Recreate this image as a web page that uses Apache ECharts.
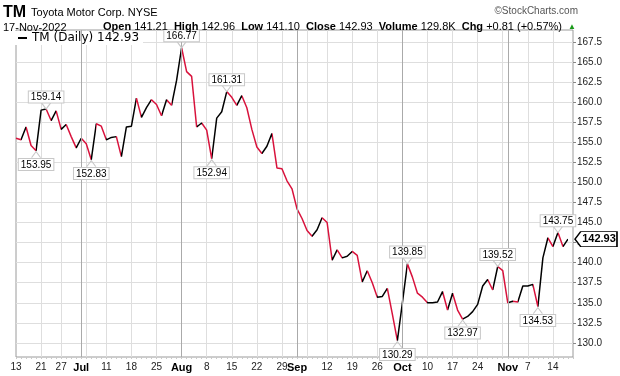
<!DOCTYPE html>
<html>
<head>
<meta charset="utf-8">
<script src="https://cdn.jsdelivr.net/npm/echarts@6/dist/echarts.min.js"></script>
<style>
  html, body { margin: 0; padding: 0; background: #fff; }
  #chart { width: 620px; height: 376px; }
</style>
</head>
<body>
<div id="chart"></div>
<script>
// trading days shown on the chart (Jun 13 - Nov 17, 2022)
const tradingDays = [
  ["06", [13, 14, 15, 16, 17, 21, 22, 23, 24, 27, 28, 29, 30]],
  ["07", [1, 5, 6, 7, 8, 11, 12, 13, 14, 15, 18, 19, 20, 21, 22, 25, 26, 27, 28, 29]],
  ["08", [1, 2, 3, 4, 5, 8, 9, 10, 11, 12, 15, 16, 17, 18, 19, 22, 23, 24, 25, 26, 29, 30, 31]],
  ["09", [1, 2, 6, 7, 8, 9, 12, 13, 14, 15, 16, 19, 20, 21, 22, 23, 26, 27, 28, 29, 30]],
  ["10", [3, 4, 5, 6, 7, 10, 11, 12, 13, 14, 17, 18, 19, 20, 21, 24, 25, 26, 27, 28, 31]],
  ["11", [1, 2, 3, 4, 7, 8, 9, 10, 11, 14, 15, 16, 17]],
]

// daily closes
const closes = [
  155.5, 155.3, 156.9, 154.6, 153.95, 159.0, 159.14, 157.7, 158.9, 156.6, 157.2, 155.7, 154.3,
  155.5, 154.8, 152.83, 157.3, 157.0, 155.3, 155.6, 155.7, 153.2, 156.9, 157.0, 160.5, 158.1,
  159.3, 160.3, 159.7, 158.3, 160.3, 159.6, 162.7,
  166.77, 163.8, 163.2, 156.9, 157.4, 156.5, 152.94, 158.0, 158.8, 161.31, 160.6, 159.6, 160.8,
  159.3, 156.6, 154.4, 153.6, 154.5, 156.1, 151.8, 151.7, 150.2, 149.2,
  146.7, 145.5, 144.0, 143.3, 144.1, 145.6, 145.0, 140.3, 141.6, 140.6, 140.8, 141.4, 140.9,
  137.6, 139.0, 137.5, 135.7, 135.8, 136.8, 133.6, 130.29,
  135.0, 139.85, 138.2, 136.2, 135.7, 135.0, 135.0, 135.1, 136.4, 134.1, 136.2, 134.1, 132.97,
  133.3, 133.9, 134.8, 137.1, 137.9, 136.6, 139.52, 139.0,
  135.0, 135.2, 135.1, 137.1, 137.1, 137.3, 134.53, 140.6, 143.1, 142.0, 143.75, 142.0, 142.93,
]

// x axis labels
const tickDates = [
  "2022-06-13", "2022-06-21", "2022-06-27", "2022-07-01", "2022-07-11", "2022-07-18", "2022-07-25",
  "2022-08-01", "2022-08-08", "2022-08-15", "2022-08-22", "2022-08-29", "2022-09-01", "2022-09-12",
  "2022-09-19", "2022-09-26", "2022-10-03", "2022-10-10", "2022-10-17", "2022-10-24", "2022-11-01",
  "2022-11-07", "2022-11-14",
]
const tickTexts = [
  "13", "21", "27", "Jul", "11", "18", "25", "Aug", "8", "15", "22", "29", "Sep", "12",
  "19", "26", "Oct", "10", "17", "24", "Nov", "7", "14",
]

// y axis labels
const yTicks = [130, 132.5, 135, 137.5, 140, 142.5, 145, 147.5, 150, 152.5, 155, 157.5, 160, 162.5, 165, 167.5]

// annotated highs / lows
const noteDates = [
  "2022-06-17", "2022-06-22", "2022-07-06", "2022-08-01", "2022-08-09", "2022-08-12",
  "2022-09-30", "2022-10-04", "2022-10-19", "2022-10-28", "2022-11-09", "2022-11-15",
]
const noteAbove = [false, true, false, true, false, true, false, true, false, true, false, true]

// header quote
const quoteNames = ["Open", "High", "Low", "Close", "Volume", "Chg"]
const quoteValues = ["141.21", "142.96", "141.10", "142.93", "129.8K", "+0.81 (+0.57%)"]

const UP = "#000000"
const DOWN = "#d8123c"
const FONT = "Liberation Sans"

const dates = []
tradingDays.forEach(([m, days]) => {
  days.forEach((d) => dates.push("2022-" + m + "-" + String(d).padStart(2, "0")))
})
const categories = dates.concat([""]) // small gap after the last close, like the reference

// weekly and monthly grid lines
const weekStart = new Set()
const monthStart = []
dates.forEach((d, i) => {
  if (i === 0) return
  const prev = dates[i - 1]
  if (new Date(d).getUTCDay() < new Date(prev).getUTCDay()) weekStart.add(d)
  if (d.slice(5, 7) !== prev.slice(5, 7)) {
    weekStart.add(d)
    monthStart.push(d)
  }
})

// colour each segment by direction
const pieces = []
for (let i = 1; i < closes.length; i++) {
  pieces.push({
    gt: i === 1 ? -1 : i - 1,
    lte: i,
    color: closes[i] >= closes[i - 1] ? UP : DOWN,
  })
}

const notePoints = noteDates.map((d, k) => {
  const i = dates.indexOf(d)
  const above = noteAbove[k]
  return {
    coord: [d, closes[i]],
    value: closes[i].toFixed(2),
    symbol: above ? "path://M0,0 L5,6 L10,0" : "path://M0,6 L5,0 L10,6",
    symbolSize: [9, 6],
    symbolOffset: [0, above ? -3 : 4],
    itemStyle: { color: "rgba(0,0,0,0)", borderColor: "#c8c8c8", borderWidth: 1 },
    label: {
      show: true,
      position: above ? "top" : "bottom",
      distance: above ? 0 : 1,
      formatter: "{c}",
      fontFamily: FONT,
      fontSize: 10,
      color: "#000",
      backgroundColor: "#fff",
      borderColor: "#c8c8c8",
      borderWidth: 1,
      padding: [1, 2, 0, 2],
    },
  }
})

const last = closes.length - 1
const lastPoint = {
  coord: [dates[last], closes[last]],
  value: closes[last].toFixed(2),
  symbol: "path://M0,7 L6,0 L44,0 L44,14 L6,14 Z",
  symbolSize: [42, 15],
  symbolKeepAspect: false,
  symbolOffset: [28, 0],
  itemStyle: { color: "#fff", borderColor: "#000", borderWidth: 1 },
  label: {
    show: true,
    position: "inside",
    offset: [3, 0],
    formatter: "{c}",
    fontFamily: FONT,
    fontSize: 11,
    fontWeight: "bold",
    color: "#000",
  },
}

let quoteText = ""
quoteNames.forEach((n, i) => {
  quoteText += "{b|" + n + "} " + quoteValues[i] + "  "
})
quoteText += "{g|▲}"

const chart = echarts.init(document.getElementById("chart"))
const option = {
  animation: false,
  backgroundColor: "#fff",
  textStyle: { fontFamily: FONT },
  title: [
    {
      left: 3,
      top: 4,
      padding: 0,
      text: "{t|TM} {n|Toyota Motor Corp. NYSE}",
      textStyle: {
        rich: {
          t: { fontFamily: FONT, fontSize: 16, fontWeight: "bold", color: "#000" },
          n: { fontFamily: FONT, fontSize: 11, fontWeight: "normal", color: "#000" },
        },
      },
    },
    {
      left: 3,
      top: 22,
      padding: 0,
      text: "17-Nov-2022",
      textStyle: { fontFamily: FONT, fontSize: 11, fontWeight: "normal", color: "#000" },
    },
    {
      right: 44,
      top: 21,
      padding: 0,
      text: quoteText,
      textStyle: {
        fontFamily: FONT,
        fontSize: 11,
        fontWeight: "normal",
        color: "#000",
        rich: {
          b: { fontFamily: FONT, fontSize: 11, fontWeight: "bold", color: "#000" },
          g: { fontSize: 8, color: "#1a9a1a" },
        },
      },
    },
    {
      right: 42,
      top: 6,
      padding: 0,
      text: "©StockCharts.com",
      textStyle: { fontFamily: FONT, fontSize: 10, fontWeight: "normal", color: "#555" },
    },
  ],
  legend: {
    left: 15,
    top: 31,
    padding: [1, 4, 1, 3],
    backgroundColor: "#fff",
    itemWidth: 9,
    itemHeight: 2,
    itemGap: 4,
    textStyle: { fontFamily: "DejaVu Sans", fontSize: 12, color: "#000" },
    data: [{ name: "TM (Daily) 142.93", icon: "rect", itemStyle: { color: "#000" } }],
  },
  grid: {
    left: 16,
    right: 47,
    top: 30,
    bottom: 19,
    show: true,
    borderColor: "#9a9a9a",
    borderWidth: 1,
  },
  visualMap: {
    show: false,
    type: "piecewise",
    seriesIndex: 0,
    dimension: 0,
    pieces: pieces,
  },
  xAxis: {
    type: "category",
    data: categories,
    boundaryGap: false,
    axisLine: { show: false },
    axisTick: { show: true, interval: 0, length: 2, lineStyle: { color: "#c8c8c8" } },
    axisLabel: {
      interval: (i, v) => tickDates.includes(v),
      formatter: (v) => {
        const s = tickTexts[tickDates.indexOf(v)]
        return /^[A-Z]/.test(s) ? "{m|" + s + "}" : s
      },
      fontFamily: FONT,
      fontSize: 10,
      color: "#222",
      margin: 5,
      rich: { m: { fontFamily: FONT, fontSize: 11, fontWeight: "bold", color: "#000" } },
    },
    splitLine: {
      show: true,
      interval: (i, v) => weekStart.has(v),
      lineStyle: { color: "#dedede", width: 1 },
    },
  },
  yAxis: {
    type: "value",
    position: "right",
    min: 128.25,
    max: 168.98,
    axisLine: { show: false },
    axisTick: { show: true, length: 3, customValues: yTicks, lineStyle: { color: "#888" } },
    axisLabel: {
      customValues: yTicks,
      formatter: (v) => v.toFixed(1),
      fontFamily: FONT,
      fontSize: 10,
      color: "#222",
      margin: 4,
    },
    splitLine: { show: true, lineStyle: { color: "#dedede", width: 1 } },
  },
  series: [
    {
      name: "TM (Daily) 142.93",
      type: "line",
      data: closes,
      showSymbol: false,
      z: 3,
      lineStyle: { width: 1.5 },
      markPoint: {
        silent: true,
        data: notePoints.concat([lastPoint]),
      },
    },
    {
      name: "months",
      type: "line",
      data: [],
      z: 1,
      markLine: {
        silent: true,
        symbol: "none",
        label: { show: false },
        lineStyle: { color: "#aaaaaa", width: 1, type: "solid" },
        data: monthStart.map((d) => ({ xAxis: d })),
      },
    },
  ],
}
chart.setOption(option)
</script>
</body>
</html>
